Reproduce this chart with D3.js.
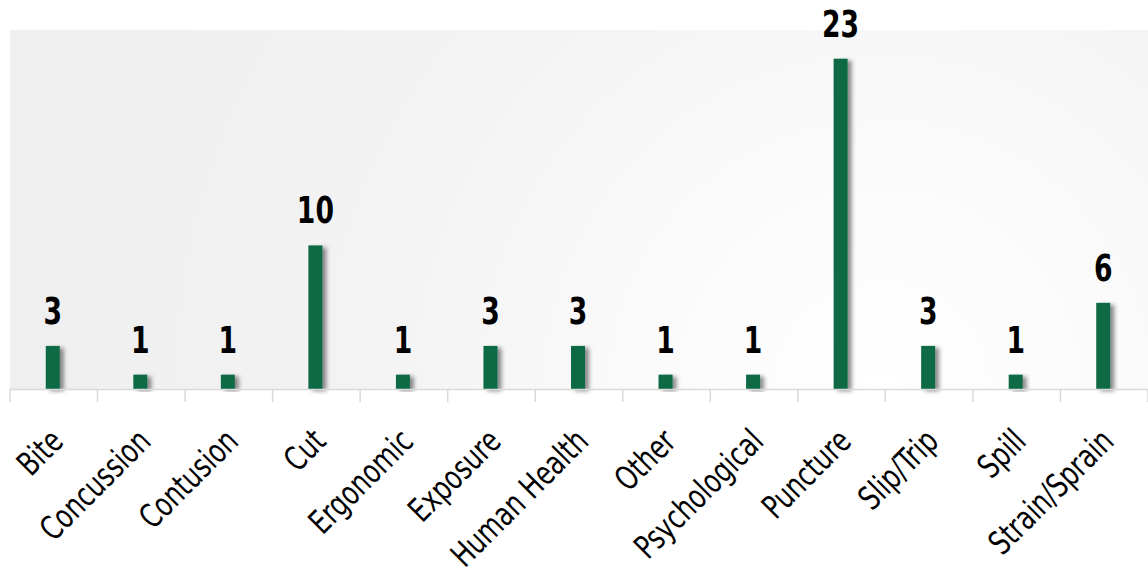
<!DOCTYPE html>
<html><head><meta charset="utf-8">
<script src="https://cdn.jsdelivr.net/npm/d3@7"></script>
<style>html,body{margin:0;padding:0;background:#fff;}svg{display:block;}</style>
</head><body>
<svg id="chart" width="1148" height="573"></svg>
<script>
const categories = ["Bite","Concussion","Contusion","Cut","Ergonomic","Exposure","Human Health","Other","Psychological","Puncture","Slip/Trip","Spill","Strain/Sprain"];
const values = [3,1,1,10,1,3,3,1,1,23,3,1,6];
const yMax = 25;

const svg = d3.select("#chart");
const m = {left:10, right:0, top:30, bottom:184};
const W = 1148, H = 573;
const x = d3.scaleBand().domain(categories).range([m.left, W - m.right]).paddingInner(0);
const y = d3.scaleLinear().domain([0, yMax]).range([H - m.bottom, m.top]);

const defs = svg.append("defs");
const rg = defs.append("radialGradient").attr("id","bg").attr("gradientUnits","userSpaceOnUse")
  .attr("cx",880).attr("cy",390).attr("r",850);
rg.append("stop").attr("offset","0%").attr("stop-color","#ffffff");
rg.append("stop").attr("offset","25%").attr("stop-color","#fbfbfb");
rg.append("stop").attr("offset","60%").attr("stop-color","#f3f3f3");
rg.append("stop").attr("offset","100%").attr("stop-color","#efefef");
const f = defs.append("filter").attr("id","sh").attr("x","-50%").attr("y","-10%").attr("width","250%").attr("height","130%");
f.append("feDropShadow").attr("dx",4).attr("dy",2).attr("stdDeviation",2.2).attr("flood-color","#000").attr("flood-opacity",0.45);

svg.append("rect").attr("x",m.left).attr("y",m.top).attr("width",W-m.left-m.right).attr("height",y(0)-m.top).attr("fill","url(#bg)");

const barW = 14;
svg.append("g").selectAll("rect").data(values).join("rect")
  .attr("x",(d,i)=>x(categories[i]) + x.bandwidth()/2 - barW/2 - 1)
  .attr("y",d=>y(d)).attr("width",barW).attr("height",d=>y(0)-y(d))
  .attr("fill","#0c6b45").attr("filter","url(#sh)");

const ax = svg.append("g").attr("transform",`translate(0,${y(0)})`);
ax.append("line").attr("x1",m.left).attr("x2",W).attr("y1",0.5).attr("y2",0.5).attr("stroke","#d9d9d9").attr("stroke-width",1.5);
const bounds = categories.map(c=>x(c)).concat([W]);
ax.selectAll("line.t").data(bounds).join("line").attr("class","t")
  .attr("x1",d=>d).attr("x2",d=>d).attr("y1",0).attr("y2",13).attr("stroke","#d9d9d9").attr("stroke-width",1.5);

const font = "'DejaVu Sans Condensed','Liberation Sans Narrow',sans-serif";
svg.append("g").selectAll("text").data(values).join("text")
  .attr("transform",(d,i)=>`translate(${x(categories[i]) + x.bandwidth()/2 - 1},${y(d)-22}) scale(0.8,1)`)
  .attr("text-anchor","middle").attr("font-family",font).attr("font-weight","bold")
  .attr("font-size",37).attr("fill","#000").text(d=>d);

svg.append("g").selectAll("text").data(categories).join("text")
  .attr("transform",c=>`translate(${x(c)+x.bandwidth()/2-6},${y(0)+37}) rotate(-45) scale(0.83,1)`)
  .attr("text-anchor","end").attr("dominant-baseline","hanging")
  .attr("font-family",font).attr("font-size",33).attr("fill","#000").text(c=>c);
</script>
</body></html>
